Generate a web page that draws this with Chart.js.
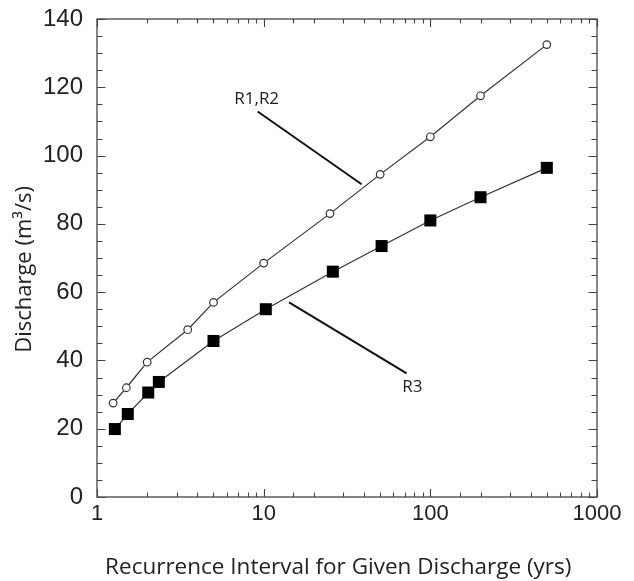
<!DOCTYPE html>
<html>
<head>
<meta charset="utf-8">
<script src="https://cdn.jsdelivr.net/npm/chart.js@4"></script>
<style>
  html, body { margin: 0; padding: 0; background: #fff; }
  #wrap { width: 634px; height: 581px; }
</style>
</head>
<body>
<div id="wrap"><canvas id="c" width="634" height="581"></canvas></div>
<script>
// ---- data ----
const r12Intervals = [1.25, 1.5, 2, 3.5, 5, 10, 25, 50, 100, 200, 500];
const r12Discharge = [27.5, 32, 39.5, 49, 57, 68.5, 83, 94.5, 105.5, 117.5, 132.5];
const r3Intervals  = [1.28, 1.53, 2.03, 2.35, 5, 10.3, 26, 51, 100, 200, 500];
const r3Discharge  = [19.9, 24.3, 30.6, 33.7, 45.7, 55, 66, 73.5, 81, 87.8, 96.4];
const xTickLabels  = [1, 10, 100, 1000];
const yTickLabels  = [0, 20, 40, 60, 80, 100, 120, 140];
const seriesNames  = ['R1,R2', 'R3'];
// annotation leader lines in data units: [x1, y1, x2, y2]
const leaderLines  = [[9.2, 112.9, 38.7, 91.6], [14.2, 57.0, 72.1, 36.2]];
// annotation label anchors in data units
const labelAnchors = [[9.08, 116.5], [77.9, 32.3]];

const toPts = (xs, ys) => xs.map((x, i) => ({ x: x, y: ys[i] }));

const frameAndTicks = {
  id: 'frameAndTicks',
  afterDatasetsDraw(chart) {
    const { ctx, chartArea: a, scales } = chart;
    const xs = scales.x, ys = scales.y;
    ctx.save();
    ctx.strokeStyle = '#444';
    ctx.lineWidth = 1.3;
    ctx.strokeRect(a.left, a.top, a.right - a.left, a.bottom - a.top);
    ctx.lineWidth = 1.1;
    ctx.beginPath();
    xs.ticks.forEach(t => {
      const v = t.value;
      const p = Math.round(xs.getPixelForValue(v)) + 0.5;
      const major = xTickLabels.includes(v);
      const len = major ? 8 : 4.5;
      ctx.moveTo(p, a.bottom); ctx.lineTo(p, a.bottom - len);
      ctx.moveTo(p, a.top); ctx.lineTo(p, a.top + len);
    });
    for (let v = ys.min; v <= ys.max; v += 5) {
      const p = Math.round(ys.getPixelForValue(v)) + 0.5;
      const major = yTickLabels.includes(v);
      const len = major ? 8.5 : 5.5;
      ctx.moveTo(a.left, p); ctx.lineTo(a.left + len, p);
      ctx.moveTo(a.right, p); ctx.lineTo(a.right - len, p);
    }
    ctx.stroke();

    ctx.strokeStyle = '#111';
    ctx.lineWidth = 2;
    ctx.beginPath();
    leaderLines.forEach(l => {
      ctx.moveTo(xs.getPixelForValue(l[0]), ys.getPixelForValue(l[1]));
      ctx.lineTo(xs.getPixelForValue(l[2]), ys.getPixelForValue(l[3]));
    });
    ctx.stroke();

    ctx.fillStyle = '#222';
    ctx.font = '17px "Open Sans", "Liberation Sans", sans-serif';
    ctx.textAlign = 'center';
    ctx.textBaseline = 'middle';
    labelAnchors.forEach((p, i) => {
      ctx.fillText(seriesNames[i], xs.getPixelForValue(p[0]), ys.getPixelForValue(p[1]));
    });
    ctx.restore();
  }
};

new Chart(document.getElementById('c'), {
  type: 'line',
  data: {
    datasets: [
      {
        label: seriesNames[0],
        data: toPts(r12Intervals, r12Discharge),
        borderColor: '#333',
        borderWidth: 1.2,
        pointStyle: 'circle',
        pointRadius: 3.8,
        pointBackgroundColor: '#fff',
        pointBorderColor: '#333',
        pointBorderWidth: 1.2,
        tension: 0,
        fill: false
      },
      {
        label: seriesNames[1],
        data: toPts(r3Intervals, r3Discharge),
        borderColor: '#333',
        borderWidth: 1.2,
        pointStyle: 'rect',
        pointRadius: 8.5,
        pointBackgroundColor: '#000',
        pointBorderColor: '#000',
        pointBorderWidth: 0,
        tension: 0,
        fill: false
      }
    ]
  },
  options: {
    responsive: false,
    devicePixelRatio: 1,
    animation: false,
    layout: { padding: { top: 19, right: 37, left: 0, bottom: 0 } },
    plugins: { legend: { display: false }, tooltip: { enabled: false } },
    scales: {
      x: {
        type: 'logarithmic',
        min: 1,
        max: 1000,
        grid: { display: false, drawTicks: false },
        border: { display: false },
        afterFit(s) { s.height = 84; s.paddingLeft = 0; s.paddingRight = 0; },
        ticks: {
          autoSkip: false,
          maxRotation: 0,
          padding: 4,
          color: '#222',
          font: { family: '"Liberation Sans", Arial, sans-serif', size: 22 },
          callback(v) { return xTickLabels.includes(v) ? String(v) : ''; }
        },
        title: {
          display: true,
          text: 'Recurrence Interval for Given Discharge (yrs)   ',
          color: '#222',
          font: { family: '"Open Sans", sans-serif', size: 22.5 },
          padding: { top: 0, bottom: 0 }
        }
      },
      y: {
        type: 'linear',
        min: 0,
        max: 140,
        grid: { display: false, drawTicks: false },
        border: { display: false },
        afterFit(s) { s.width = 97; s.paddingTop = 0; s.paddingBottom = 0; },
        ticks: {
          stepSize: 20,
          padding: 14,
          color: '#222',
          font: { family: '"Liberation Sans", Arial, sans-serif', size: 24 },
          callback(v) { return yTickLabels.includes(v) ? String(v) : ''; }
        },
        title: {
          display: true,
          text: 'Discharge (m³/s)    ',
          color: '#222',
          font: { family: '"Open Sans", sans-serif', size: 22 },
          padding: { top: 12, bottom: 0 }
        }
      }
    }
  },
  plugins: [frameAndTicks]
});
</script>
</body>
</html>
